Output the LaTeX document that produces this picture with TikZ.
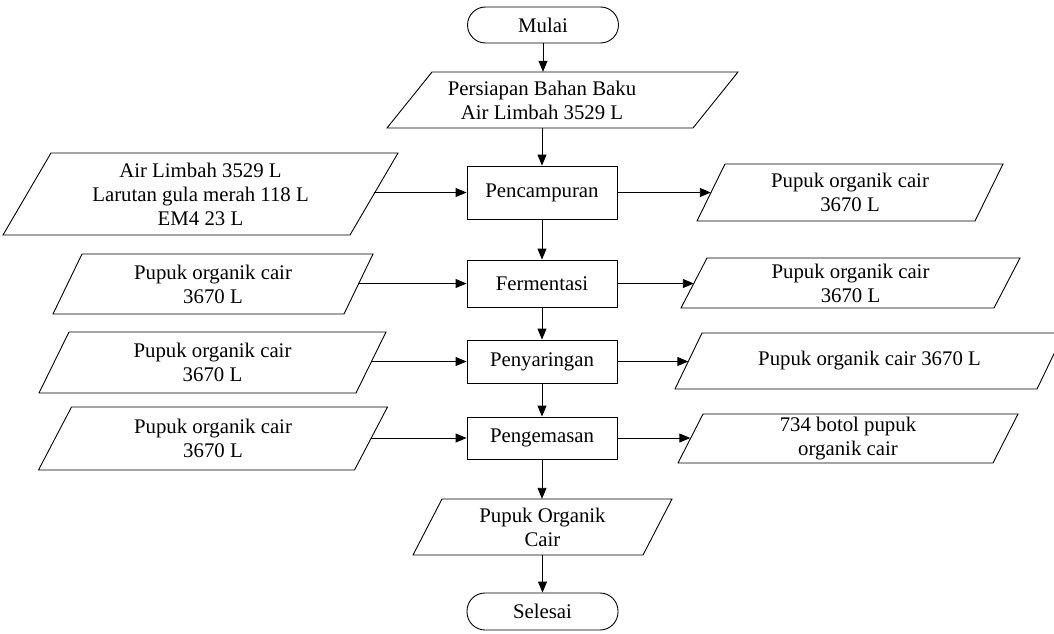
\documentclass[tikz,border=0pt]{standalone}
\usepackage{fontspec}
\setmainfont{Liberation Serif}
\usetikzlibrary{arrows.meta}

\tikzset{
  lbl/.style={font=\fontsize{20.8}{24}\selectfont, align=center, inner sep=0pt},
  outline/.style={draw=black, line width=0.9pt},
  procbox/.style={lbl, outline, fill=white, minimum width=150pt},
  termbox/.style={lbl, outline, fill=white, rounded corners=18pt, minimum width=151pt, minimum height=36pt},
  flow/.style={line width=0.9pt, -{Triangle[length=11pt,width=9pt]}},
}

% parallelogram outline: centre x, centre y, width, height, slant
\newcommand\slantbox[5]{%
  \draw[outline, fill=white]
    ({#1-#3/2-#5/2},{#2+#4/2}) -- ({#1-#3/2+#5/2},{#2-#4/2}) --
    ({#1+#3/2+#5/2},{#2-#4/2}) -- ({#1+#3/2-#5/2},{#2+#4/2}) -- cycle;
}
% data shape: name, centre x, centre y, width, height, slant, text
\newcommand\datashape[7]{%
  \slantbox{#2}{#3}{#4}{#5}{#6}
  \node[lbl, minimum width=#4pt, minimum height=#5pt] (#1) at (#2,#3) {#7};
}

\begin{document}
\begin{tikzpicture}[x=1pt, y=-1pt]
  \useasboundingbox (0,0) rectangle (1054,634);
  \fill[white] (0,0) rectangle (1054,634);

  % main column
  \node[termbox] (start) at (543,25) {Mulai};
  \slantbox{562.5}{100}{306}{56}{45}
  \node[lbl, minimum height=56pt] (prep) at (542,100) {Persiapan Bahan Baku\\Air Limbah 3529 L};
  \node[procbox, minimum height=53pt] (mix) at (542,192.5) {Pencampuran};
  \node[procbox, minimum height=47pt] (ferm) at (542,283.5) {Fermentasi};
  \node[procbox, minimum height=43pt] (filt) at (542,361.5) {Penyaringan};
  \node[procbox, minimum height=42pt] (pack) at (542,438) {Pengemasan};
  \datashape{prod}{542.5}{527}{230}{56}{29}{Pupuk Organik\\Cair}
  \node[termbox, minimum height=37pt] (stop) at (542.5,611.5) {Selesai};

  % inputs
  \datashape{in1}{200.5}{194}{347}{82}{48}{Air Limbah 3529 L\\Larutan gula merah 118 L\\EM4 23 L}
  \datashape{in2}{213}{284}{291}{60}{29}{Pupuk organik cair\\3670 L}
  \datashape{in3}{212.5}{362.5}{317}{61}{30}{Pupuk organik cair\\3670 L}
  \datashape{in4}{213}{438.5}{316}{63}{33}{Pupuk organik cair\\3670 L}

  % outputs
  \datashape{out1}{850}{192.5}{278}{57}{28}{Pupuk organik cair\\3670 L}
  \datashape{out2}{850.5}{283}{313}{50}{26}{Pupuk organik cair\\3670 L}
  \datashape{out3}{869.5}{361}{362}{56}{27}{Pupuk organik cair 3670 L}
  \datashape{out4}{848}{438.5}{315}{49}{25}{734 botol pupuk\\organik cair}

  % vertical flow
  \draw[flow] (start.south) -- (start.south |- prep.north);
  \draw[flow] (prep.south -| mix.north) -- (mix.north);
  \draw[flow] (mix.south) -- (ferm.north);
  \draw[flow] (ferm.south) -- (filt.north);
  \draw[flow] (filt.south) -- (pack.north);
  \draw[flow] (pack.south) -- (pack.south |- prod.north);
  \draw[flow] (prod.south -| stop.north) -- (stop.north);

  % side flows
  \draw[flow] (in1.east |- mix.west) -- (mix.west);
  \draw[flow] (in2.east |- ferm.west) -- (ferm.west);
  \draw[flow] (in3.east |- filt.west) -- (filt.west);
  \draw[flow] (in4.east |- pack.west) -- (pack.west);
  \draw[flow] (mix.east) -- (mix.east -| out1.west);
  \draw[flow] (ferm.east) -- (ferm.east -| out2.west);
  \draw[flow] (filt.east) -- (filt.east -| out3.west);
  \draw[flow] (pack.east) -- (pack.east -| out4.west);
\end{tikzpicture}
\end{document}
